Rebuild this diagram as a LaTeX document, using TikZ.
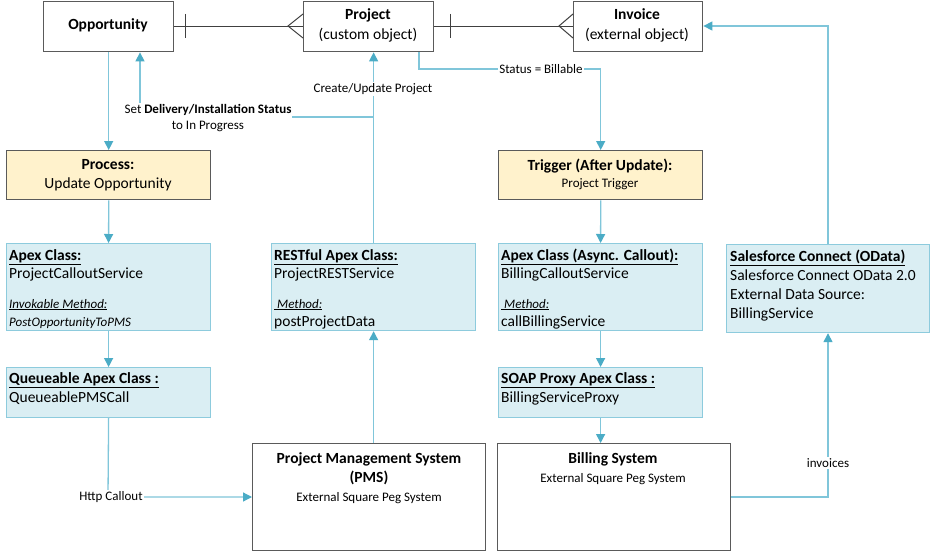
\documentclass[tikz,border=0pt]{standalone}
\usepackage{fontspec}
\setmainfont{Carlito}
\usetikzlibrary{arrows.meta}
\definecolor{flowc}{HTML}{80C6DA}
\definecolor{tipc}{HTML}{4BACC6}
\definecolor{grayb}{HTML}{5A5A5A}
\definecolor{bluef}{HTML}{DAEEF3}
\definecolor{blueb}{HTML}{8DCBDD}
\definecolor{orangef}{HTML}{FFF2CC}
\definecolor{erc}{HTML}{404040}
\newcommand{\mainsz}{\fontsize{15.5}{18}\selectfont}
\newcommand{\smallsz}{\fontsize{13}{16}\selectfont}
\begin{document}
\begin{tikzpicture}[x=1pt,y=-1pt,
  graybox/.style={draw=grayb,line width=1.4pt,fill=white,inner sep=0pt,anchor=north west},
  orangebox/.style={graybox,fill=orangef},
  bluebox/.style={draw=blueb,line width=1.2pt,fill=bluef,inner sep=0pt,anchor=north west},
  txt/.style={inner sep=0pt,font=\mainsz,text height=11pt,text depth=3pt},
  btxt/.style={txt,font=\mainsz\bfseries},
  stxt/.style={inner sep=0pt,font=\smallsz,text height=9pt,text depth=3pt},
  ltxt/.style={inner sep=1pt,font=\smallsz,fill=white,align=center},
  flow/.style={draw=flowc,line width=1.3pt,-{Triangle[length=9pt,width=9pt,color=tipc]}},
  er/.style={draw=erc,line width=1pt}]
\useasboundingbox (0,0) rectangle (931,551);
\fill[white] (0,0) rectangle (931,551);

% boxes
\node[graybox,minimum width=130pt,minimum height=50pt] (opp) at (43,1) {};
\node[graybox,minimum width=130pt,minimum height=50pt] (proj) at (303,1) {};
\node[graybox,minimum width=129pt,minimum height=50pt] (inv) at (573,1) {};
\node[orangebox,minimum width=204pt,minimum height=49pt] (proc) at (6,150) {};
\node[orangebox,minimum width=204pt,minimum height=49pt] (trig) at (498,150) {};
\node[bluebox,minimum width=204pt,minimum height=87pt] (apex) at (6,243) {};
\node[bluebox,minimum width=204pt,minimum height=87pt] (rest) at (271,243) {};
\node[bluebox,minimum width=204pt,minimum height=87pt] (async) at (498,243) {};
\node[bluebox,minimum width=203pt,minimum height=88pt] (sfc) at (726,244) {};
\node[bluebox,minimum width=204pt,minimum height=50pt] (queue) at (6,367) {};
\node[bluebox,minimum width=204pt,minimum height=50pt] (soap) at (498,367) {};
\node[graybox,minimum width=233pt,minimum height=107pt] (pms) at (252,443) {};
\node[graybox,minimum width=233pt,minimum height=107pt] (bill) at (497,443) {};

% box texts
\node[btxt] (oppT) at (108,26) {Opportunity};
\node[btxt] (projT1) at (368,16) {Project};
\node[txt] (projT2) at (368,36) {(custom object)};
\node[btxt] (invT1) at (637,16) {Invoice};
\node[txt] (invT2) at (637,36) {(external object)};
\node[btxt] (procT1) at (108,165) {Process:};
\node[txt] (procT2) at (108,184) {Update Opportunity};
\node[btxt] (trigT1) at (600,166) {Trigger (After Update):};
\node[stxt] (trigT2) at (600,184) {Project Trigger};

\node[btxt,anchor=west] (apexT1) at (9,256) {\underline{Apex Class:}};
\node[txt,anchor=west] (apexT2) at (9,274) {ProjectCalloutService};
\node[stxt,anchor=west,font=\smallsz\itshape] (apexT3) at (9,305) {\underline{Invokable Method:}};
\node[stxt,anchor=west,font=\smallsz\itshape] (apexT4) at (9,323) {PostOpportunityToPMS};

\node[btxt,anchor=west] (restT1) at (274,256) {\underline{RESTful Apex Class:}};
\node[txt,anchor=west] (restT2) at (274,274) {ProjectRESTService};
\node[stxt,anchor=west,font=\smallsz\itshape] (restT3) at (274,305) {\underline{\ Method:}};
\node[txt,anchor=west] (restT4) at (274,322) {postProjectData};

\node[btxt,anchor=west] (asyncT1) at (501,256) {\underline{Apex Class (Async. Callout):}};
\node[txt,anchor=west] (asyncT2) at (501,274) {BillingCalloutService};
\node[stxt,anchor=west,font=\smallsz\itshape] (asyncT3) at (501,305) {\underline{\ Method:}};
\node[txt,anchor=west] (asyncT4) at (501,322) {callBillingService};

\node[btxt,anchor=west] (sfcT1) at (730,257) {\underline{Salesforce Connect (OData)}};
\node[txt,anchor=west] (sfcT2) at (730,276) {Salesforce Connect OData 2.0};
\node[txt,anchor=west] (sfcT3) at (730,295) {External Data Source:};
\node[txt,anchor=west] (sfcT4) at (730,314) {BillingService};

\node[btxt,anchor=west] (queueT1) at (9,379) {\underline{Queueable Apex Class :}};
\node[txt,anchor=west] (queueT2) at (9,398) {QueueablePMSCall};

\node[btxt,anchor=west] (soapT1) at (501,379) {\underline{SOAP Proxy Apex Class :}};
\node[txt,anchor=west] (soapT2) at (501,398) {BillingServiceProxy};

\node[btxt] (pmsT1) at (369,459) {Project Management System};
\node[btxt] (pmsT2) at (369,478) {(PMS)};
\node[stxt] (pmsT3) at (369,498) {External Square Peg System};

\node[btxt] (billT1) at (613,459) {Billing System};
\node[stxt] (billT2) at (613,479) {External Square Peg System};

% ER connectors
\draw[er] (opp.east) -- (proj.west);
\draw[er] (185,14) -- (185,38);
\draw[er] (303,14) -- (288,26) -- (303,38);
\draw[er] (proj.east) -- (inv.west);
\draw[er] (450,14) -- (450,38);
\draw[er] (573,14) -- (559,26) -- (573,38);

% flow connectors
\coordinate (c1) at (140,117);
\coordinate (c2) at (373,117);
\coordinate (s1) at (419,69);
\coordinate (h1) at (108,497);
\coordinate (i1) at (828,497);
\coordinate (i2) at (828,26);

\draw[flow] (opp.south) -- (proc.north);
\draw[flow] (rest.north) -- (rest.north |- proj.south);
\draw[flow] (c2) -- (c1) -- (c1 |- opp.south);
\draw[flow] (proj.south -| s1) -- (s1) -| (trig.north);
\draw[flow] (proc.south) -- (apex.north);
\draw[flow] (apex.south) -- (queue.north);
\draw[flow] (queue.south) -- (h1) -- (h1 -| pms.west);
\draw[flow] (rest.south |- pms.north) -- (rest.south);
\draw[flow] (trig.south) -- (async.north);
\draw[flow] (async.south) -- (soap.north);
\draw[flow] (soap.south) -- (soap.south |- bill.north);
\draw[flow] (bill.east |- i1) -- (i1) -- (i1 |- sfc.south);
\draw[flow] (i1 |- sfc.north) -- (i2) -- (i2 -| inv.east);

% connector labels
\node[ltxt] (lblSet) at (208,118) {Set \textbf{Delivery/Installation Status}\\to In Progress};
\node[ltxt] (lblCreate) at (373,89) {Create/Update Project};
\node[ltxt] (lblStatus) at (541,69) {Status = Billable};
\node[ltxt] (lblHttp) at (111,497) {Http Callout};
\node[ltxt] (lblInv) at (828,463) {invoices};
\end{tikzpicture}
\end{document}
